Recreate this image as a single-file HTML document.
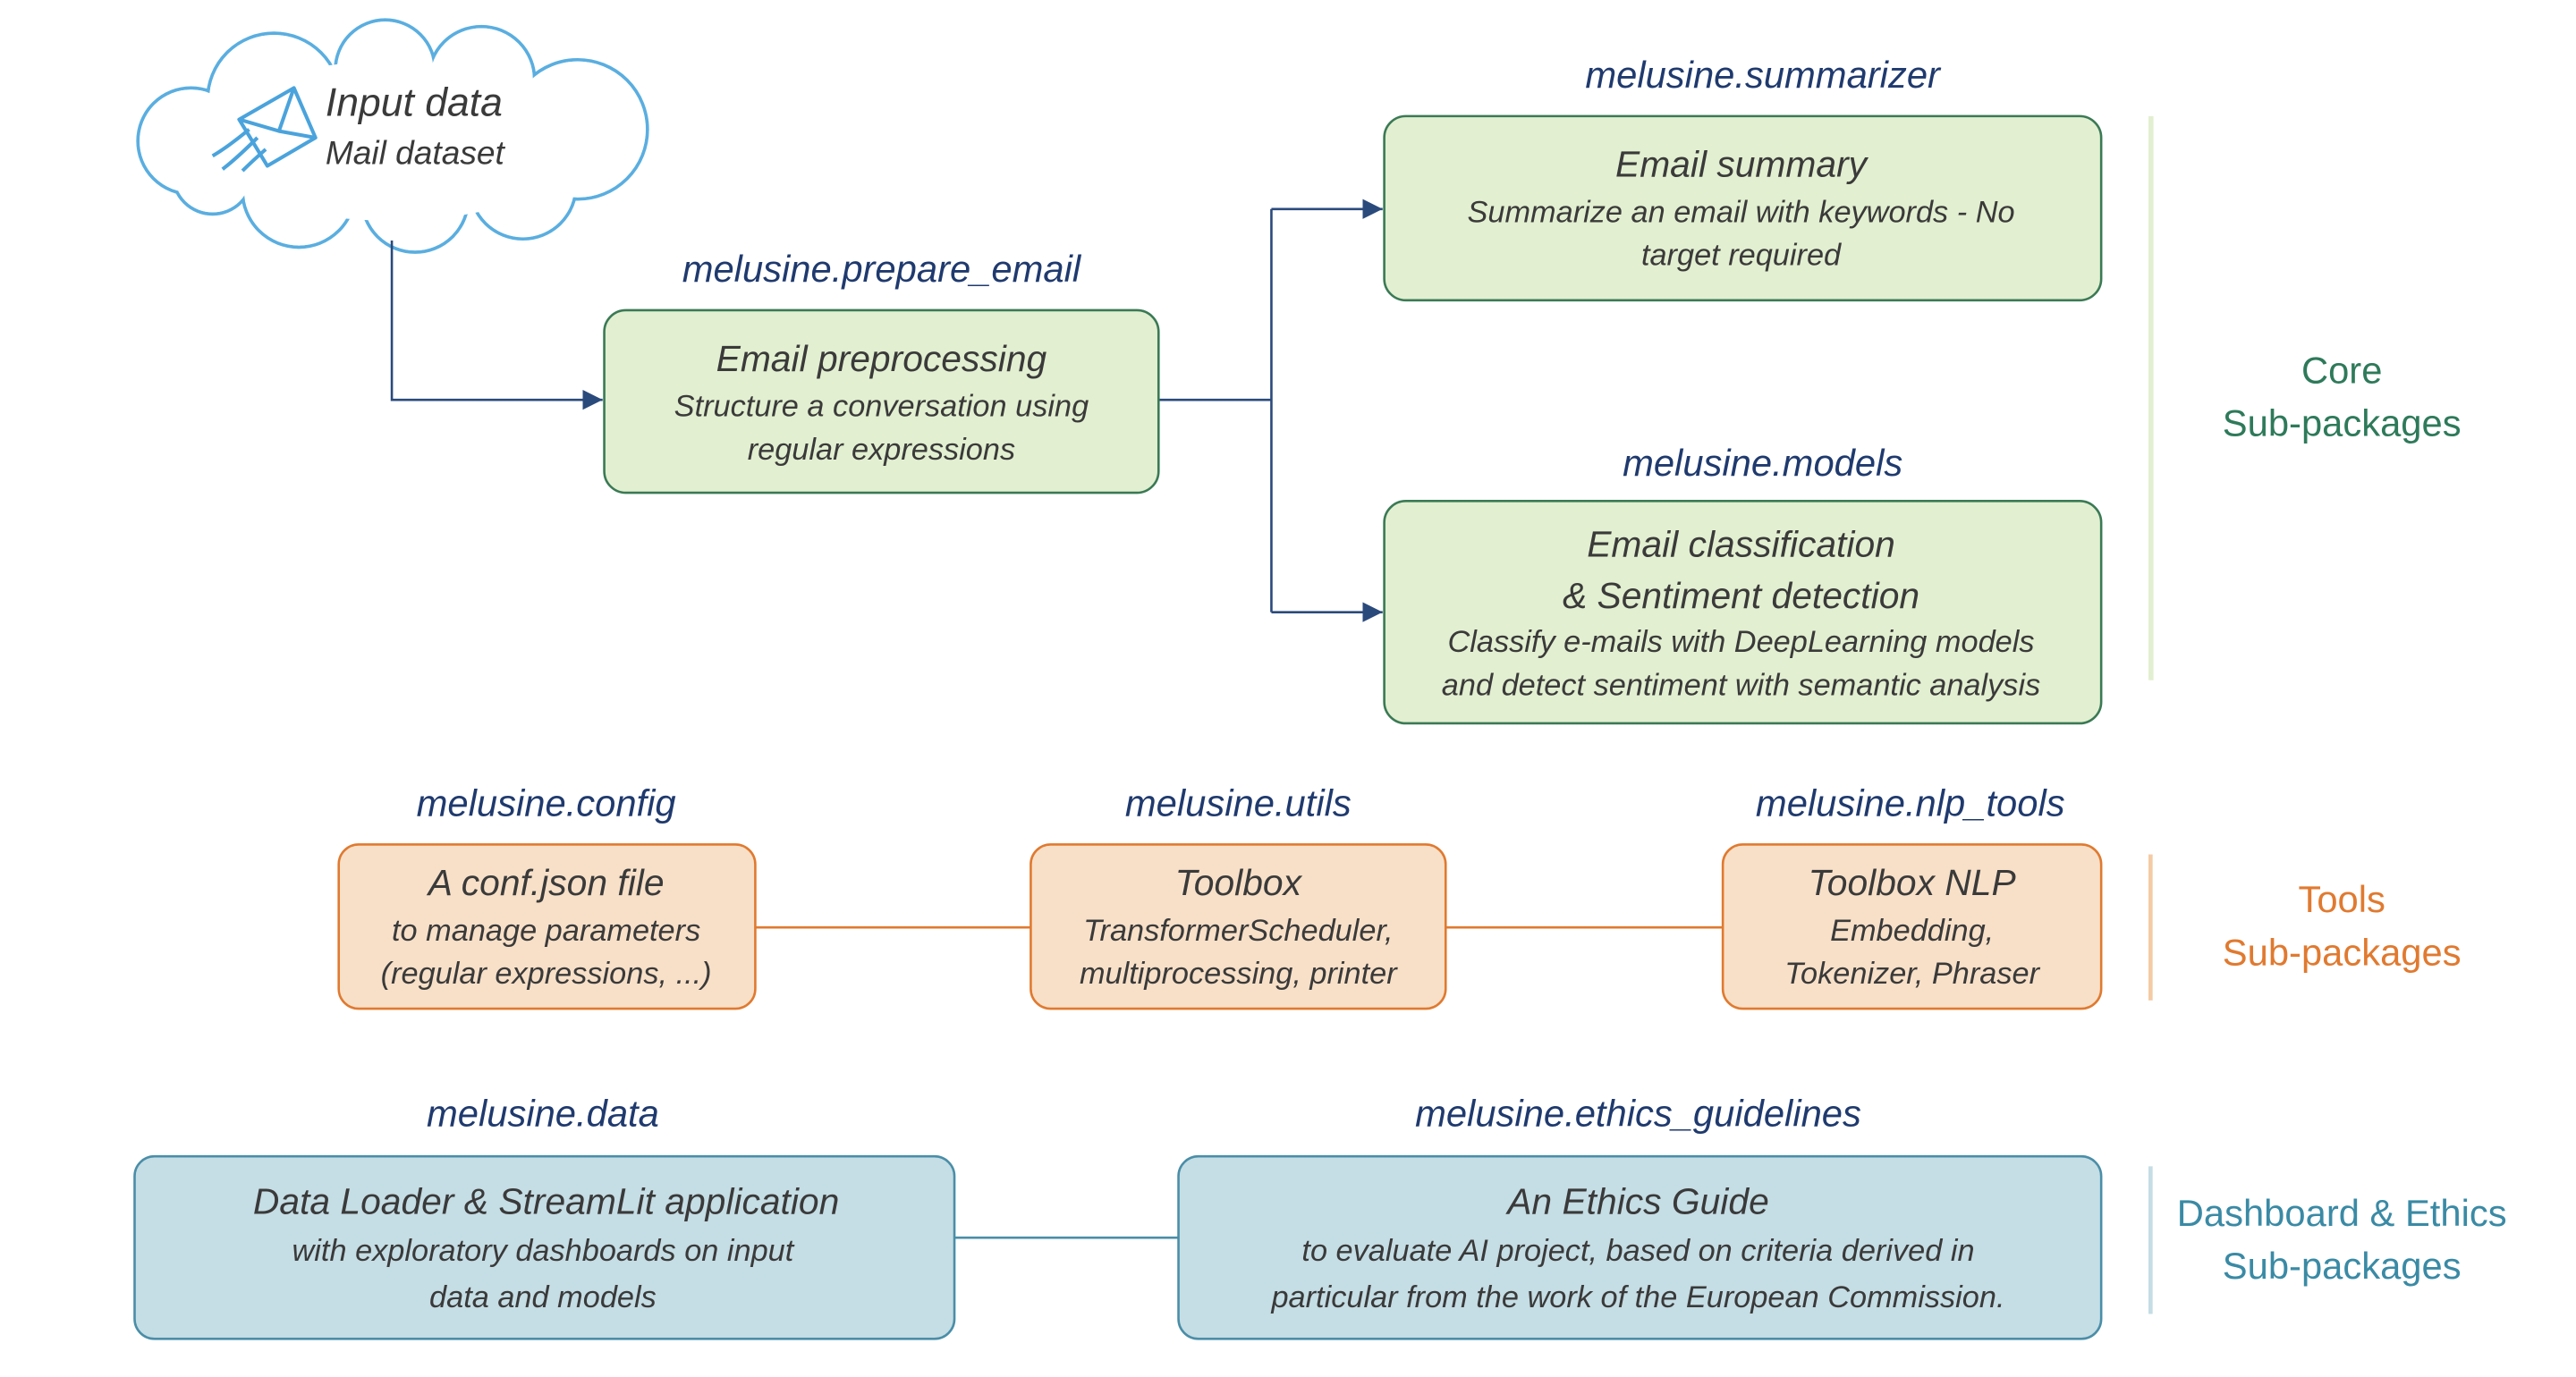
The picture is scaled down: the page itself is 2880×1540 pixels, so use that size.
<!DOCTYPE html>
<html><head><meta charset="utf-8"><style>
html,body{margin:0;padding:0;background:#fff;}
svg{display:block;}
text{font-family:"Liberation Sans",sans-serif;}
.lbl{font-style:italic;fill:#1f3a6e;font-size:22.5px;text-anchor:middle;dominant-baseline:central;}
.t{font-style:italic;fill:#3a3a3a;font-size:22px;text-anchor:middle;dominant-baseline:central;}
.s{font-style:italic;fill:#3a3a3a;font-size:18.5px;text-anchor:middle;dominant-baseline:central;}
.side{font-size:22.5px;text-anchor:middle;dominant-baseline:central;}
</style></head><body>
<svg width="2880" height="1540" viewBox="0 0 1552 830" xmlns="http://www.w3.org/2000/svg">
<defs>
<marker id="ar" viewBox="0 0 10 10" refX="10" refY="5" markerWidth="12" markerHeight="12" markerUnits="userSpaceOnUse" orient="auto"><path d="M0,0 L10,5 L0,10 z" fill="#2a4a7c"/></marker>
</defs>
<!-- cloud -->
<g stroke="#5aaee0" stroke-width="2" fill="#fff">
<circle cx="115" cy="85" r="32"/><circle cx="165" cy="60" r="40"/><circle cx="232" cy="42" r="30"/>
<circle cx="290" cy="48" r="32"/><circle cx="348" cy="78" r="42"/><circle cx="315" cy="112" r="32"/>
<circle cx="250" cy="120" r="32"/><circle cx="180" cy="115" r="34"/><circle cx="128" cy="105" r="24"/>
</g>
<g fill="#fff">
<circle cx="115" cy="85" r="31"/><circle cx="165" cy="60" r="39"/><circle cx="232" cy="42" r="29"/>
<circle cx="290" cy="48" r="31"/><circle cx="348" cy="78" r="41"/><circle cx="315" cy="112" r="31"/>
<circle cx="250" cy="120" r="31"/><circle cx="180" cy="115" r="33"/><circle cx="128" cy="105" r="23"/>
<ellipse cx="235" cy="85" rx="118" ry="48"/>
</g>
<!-- envelope -->
<g stroke="#4aa3dc" stroke-width="2.2" fill="none" stroke-linejoin="round">
<path d="M144,72 L177,53 L190,83 L161,100 Z"/>
<path d="M144,72 L168,79 L177,53"/>
<path d="M168,79 L190,83"/>
<path d="M150,78 Q138,88 128,94"/><path d="M155,83 Q143,95 134,102"/><path d="M160,90 Q152,97 146,103"/>
</g>
<text x="196" y="62" style="font-style:italic;fill:#3a3a3a;font-size:24px;dominant-baseline:central;">Input data</text>
<text x="196" y="92" style="font-style:italic;fill:#3a3a3a;font-size:20px;dominant-baseline:central;">Mail dataset</text>
<!-- connectors -->
<g stroke="#2a4a7c" stroke-width="1.4" fill="none">
<path d="M236,145 L236,241 L363,241" marker-end="url(#ar)"/>
<path d="M698,241 L766,241"/>
<path d="M766,126 L766,369"/>
<path d="M766,126 L833,126" marker-end="url(#ar)"/>
<path d="M766,369 L833,369" marker-end="url(#ar)"/>
</g>
<!-- core boxes -->
<g fill="#e2efd0" stroke="#3a7a55" stroke-width="1.4">
<rect x="364" y="187" width="334" height="110" rx="13"/>
<rect x="834" y="70" width="432" height="111" rx="13"/>
<rect x="834" y="302" width="432" height="134" rx="13"/>
</g>
<text class="lbl" x="531" y="162">melusine.prepare_email</text>
<text class="t" x="531" y="216">Email preprocessing</text>
<text class="s" x="531" y="245">Structure a conversation using</text>
<text class="s" x="531" y="271">regular expressions</text>
<text class="lbl" x="1062" y="45">melusine.summarizer</text>
<text class="t" x="1049" y="99">Email summary</text>
<text class="s" x="1049" y="128">Summarize an email with keywords - No</text>
<text class="s" x="1049" y="154">target required</text>
<text class="lbl" x="1062" y="279">melusine.models</text>
<text class="t" x="1049" y="328">Email classification</text>
<text class="t" x="1049" y="359">&amp; Sentiment detection</text>
<text class="s" x="1049" y="387">Classify e-mails with DeepLearning models</text>
<text class="s" x="1049" y="413">and detect sentiment with semantic analysis</text>
<rect x="1294.5" y="70" width="3" height="340" fill="#e2efd0"/>
<text class="side" x="1411" y="223" fill="#2e7a5a">Core</text>
<text class="side" x="1411" y="255" fill="#2e7a5a">Sub-packages</text>
<!-- tools -->
<g stroke="#e07a30" stroke-width="1.4">
<line x1="455" y1="559" x2="621" y2="559"/><line x1="871" y1="559" x2="1038" y2="559"/>
</g>
<g fill="#f8e0c8" stroke="#e07a30" stroke-width="1.4">
<rect x="204" y="509" width="251" height="99" rx="12"/>
<rect x="621" y="509" width="250" height="99" rx="12"/>
<rect x="1038" y="509" width="228" height="99" rx="12"/>
</g>
<text class="lbl" x="329" y="484">melusine.config</text>
<text class="t" x="329" y="532">A conf.json file</text>
<text class="s" x="329" y="561">to manage parameters</text>
<text class="s" x="329" y="587">(regular expressions, ...)</text>
<text class="lbl" x="746" y="484">melusine.utils</text>
<text class="t" x="746" y="532">Toolbox</text>
<text class="s" x="746" y="561">TransformerScheduler,</text>
<text class="s" x="746" y="587">multiprocessing, printer</text>
<text class="lbl" x="1151" y="484">melusine.nlp_tools</text>
<text class="t" x="1152" y="532">Toolbox NLP</text>
<text class="s" x="1152" y="561">Embedding,</text>
<text class="s" x="1152" y="587">Tokenizer, Phraser</text>
<rect x="1294.5" y="515" width="2.5" height="88" fill="#f4cba5"/>
<text class="side" x="1411" y="542" fill="#e07a30">Tools</text>
<text class="side" x="1411" y="574" fill="#e07a30">Sub-packages</text>
<!-- bottom -->
<line x1="575" y1="746" x2="710" y2="746" stroke="#4a8ea8" stroke-width="1.4"/>
<g fill="#c5dde4" stroke="#4a8ea8" stroke-width="1.4">
<rect x="81" y="697" width="494" height="110" rx="12"/>
<rect x="710" y="697" width="556" height="110" rx="12"/>
</g>
<text class="lbl" x="327" y="671">melusine.data</text>
<text class="t" x="329" y="724">Data Loader &amp; StreamLit application</text>
<text class="s" x="327" y="754">with exploratory dashboards on input</text>
<text class="s" x="327" y="782">data and models</text>
<text class="lbl" x="987" y="671">melusine.ethics_guidelines</text>
<text class="t" x="987" y="724">An Ethics Guide</text>
<text class="s" x="987" y="754">to evaluate AI project, based on criteria derived in</text>
<text class="s" x="987" y="782">particular from the work of the European Commission.</text>
<rect x="1294.5" y="703" width="2.5" height="89" fill="#c5dde4"/>
<text class="side" x="1411" y="731" fill="#3a8aa5">Dashboard &amp; Ethics</text>
<text class="side" x="1411" y="763" fill="#3a8aa5">Sub-packages</text>
</svg>
</body></html>
